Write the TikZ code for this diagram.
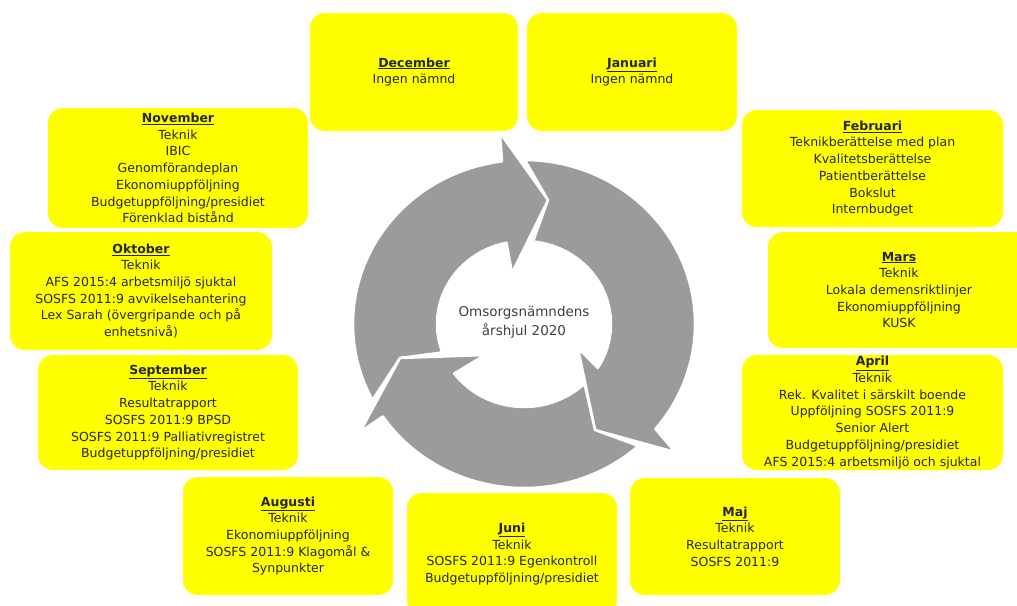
\documentclass[tikz,border=0pt]{standalone}
\usepackage{fontspec}
\setmainfont{DejaVu Sans}
\usepackage{tikz}
\usetikzlibrary{calc,positioning}
\definecolor{monthyellow}{RGB}{255,255,0}
\definecolor{wheelgray}{RGB}{155,155,155}
\definecolor{hubgray}{RGB}{64,64,64}
\tikzset{
  month/.style={rectangle, rounded corners=15pt, fill=monthyellow, align=center, inner sep=1pt, text=black!85, font=\fontsize{12.5}{16.7}\selectfont},
  wheelpart/.style={fill=wheelgray, draw=white, line width=2.5pt, line join=round}
}
\newcommand{\mhead}[1]{\underline{\textbf{#1}}}

\begin{document}
\begin{tikzpicture}[x=1pt, y=-1pt]
                    \useasboundingbox (0,0) rectangle (1017,605);
                    \coordinate (hub) at (524,324);
                    \fill[wheelpart] ($(hub)+(207.6:171pt and 164pt)$) arc[start angle=207.6, end angle=97.4, x radius=171pt, y radius=164pt] -- (500,133) -- (548,200) -- (512,273) -- ($(hub)+(101.6:87pt and 83pt)$) arc[start angle=101.6, end angle=200, x radius=87pt, y radius=83pt] -- (400,358) -- cycle;
                    \fill[wheelpart] ($(hub)+(89.7:171pt and 164pt)$) arc[start angle=89.7, end angle=-39.8, x radius=171pt, y radius=164pt] -- (675,452) -- (595,430) -- (578,348) -- ($(hub)+(-31.9:87pt and 83pt)$) arc[start angle=-31.9, end angle=84, x radius=87pt, y radius=83pt] -- (548,200) -- cycle;
                    \fill[wheelpart] ($(hub)+(-48:171pt and 164pt)$) arc[start angle=-48, end angle=-145.7, x radius=171pt, y radius=164pt] -- (360,432) -- (400,358) -- (485,355) -- ($(hub)+(216.6:87pt and 83pt)$) arc[start angle=216.6, end angle=314, x radius=87pt, y radius=83pt] -- (595,430) -- cycle;
                    \node[font=\fontsize{13.5}{19}\selectfont, text=hubgray, align=center] (yeartitle) at (524,322) {Omsorgsnämndens\\årshjul 2020};
                    \node[month, minimum width=208pt, minimum height=118pt] (dec) at (414,72) {\mhead{December}\\Ingen nämnd};
                    \node[month, minimum width=210pt, minimum height=118pt] (jan) at (632,72) {\mhead{Januari}\\Ingen nämnd};
                    \node[month, minimum width=261pt, minimum height=117pt] (feb) at (872.5,168.5) {\mhead{Februari}\\Teknikberättelse med plan\\Kvalitetsberättelse\\Patientberättelse\\Bokslut\\Internbudget};
                    \node[month, minimum width=262pt, minimum height=116pt] (mar) at (899,290) {\mhead{Mars}\\Teknik\\Lokala demensriktlinjer\\Ekonomiuppföljning\\KUSK};
                    \node[month, minimum width=261pt, minimum height=115pt] (apr) at (872.5,412.5) {\mhead{April}\\Teknik\\Rek. Kvalitet i särskilt boende\\Uppföljning SOSFS 2011:9\\Senior Alert\\Budgetuppföljning/presidiet\\AFS 2015:4 arbetsmiljö och sjuktal};
                    \node[month, minimum width=210pt, minimum height=117pt] (maj) at (735,536.5) {\mhead{Maj}\\Teknik\\Resultatrapport\\SOSFS 2011:9};
                    \node[month, minimum width=210pt, minimum height=122pt] (jun) at (512,554) {\mhead{Juni}\\Teknik\\SOSFS 2011:9 Egenkontroll\\Budgetuppföljning/presidiet};
                    \node[month, minimum width=210pt, minimum height=118pt] (aug) at (288,536) {\mhead{Augusti}\\Teknik\\Ekonomiuppföljning\\SOSFS 2011:9 Klagomål \&\\Synpunkter};
                    \node[month, minimum width=260pt, minimum height=115pt] (sep) at (168,412.5) {\mhead{September}\\Teknik\\Resultatrapport\\SOSFS 2011:9 BPSD\\SOSFS 2011:9 Palliativregistret\\Budgetuppföljning/presidiet};
                    \node[month, minimum width=262pt, minimum height=118pt] (okt) at (141,291) {\mhead{Oktober}\\Teknik\\AFS 2015:4 arbetsmiljö sjuktal\\SOSFS 2011:9 avvikelsehantering\\Lex Sarah (övergripande och på\\enhetsnivå)};
                    \node[month, minimum width=260pt, minimum height=120pt] (nov) at (178,168) {\mhead{November}\\Teknik\\IBIC\\Genomförandeplan\\Ekonomiuppföljning\\Budgetuppföljning/presidiet\\Förenklad bistånd};
                \end{tikzpicture}
\end{document}
